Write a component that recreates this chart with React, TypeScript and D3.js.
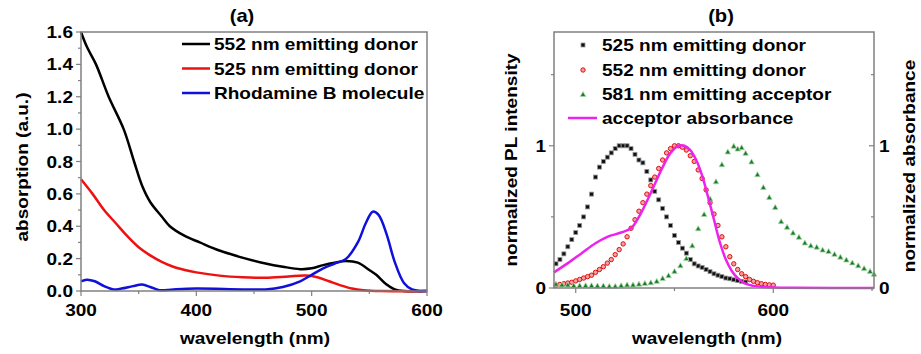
import * as d3 from 'd3';
import React from 'react';

// ---- panel (a): absorption spectra ----
const absWl552 = [300, 305, 313, 324, 337, 346, 353, 360, 370, 377, 390, 403, 420, 443, 460, 475, 490, 500, 510, 520, 530, 540, 550, 556, 565, 572, 580, 600];
const absVal552 = [1.6, 1.51, 1.4, 1.2, 1.0, 0.8, 0.65, 0.55, 0.46, 0.4, 0.34, 0.3, 0.25, 0.2, 0.17, 0.15, 0.135, 0.14, 0.16, 0.175, 0.185, 0.175, 0.13, 0.1, 0.04, 0.01, 0, 0];

const absWl525 = [300, 310, 320, 330, 340, 350, 360, 370, 380, 390, 400, 420, 440, 460, 480, 495, 505, 515, 525, 535, 545, 560, 600];
const absVal525 = [0.69, 0.6, 0.5, 0.42, 0.34, 0.27, 0.22, 0.18, 0.15, 0.13, 0.115, 0.095, 0.085, 0.082, 0.09, 0.095, 0.085, 0.06, 0.035, 0.015, 0.005, 0, 0];

const absWlRhB = [300, 305, 312, 320, 328, 335, 345, 353, 360, 368, 380, 400, 440, 460, 475, 490, 500, 510, 520, 530, 540, 547, 553, 558, 565, 572, 580, 587, 595, 600];
const absValRhB = [0.06, 0.07, 0.06, 0.03, 0.01, 0.015, 0.03, 0.04, 0.025, 0.005, 0.01, 0.015, 0.01, 0.01, 0.025, 0.06, 0.1, 0.14, 0.17, 0.2, 0.3, 0.42, 0.49, 0.47, 0.35, 0.18, 0.05, 0.01, 0, 0];

const absLegend = ['552 nm emitting donor', '525 nm emitting donor', 'Rhodamine B molecule'];
const absColors = ['#000000', '#ee1111', '#1010dd'];
const absXTicks = [300, 400, 500, 600];
const absYTicks = [0, 0.2, 0.4, 0.6, 0.8, 1.0, 1.2, 1.4, 1.6];

// ---- panel (b): normalized PL / absorbance ----
const plWl525 = [490, 492, 494, 496, 498, 500, 502, 504, 506, 508, 510, 512, 514, 516, 518, 520, 522, 524, 526, 528, 530, 532, 534, 536, 538, 540, 542, 544, 546, 548, 550, 552, 554, 556, 558, 560, 562, 564, 566, 568, 570, 572, 574, 576, 578, 580, 582, 584, 586];
const plVal525 = [0.17, 0.2, 0.24, 0.29, 0.34, 0.39, 0.44, 0.5, 0.57, 0.66, 0.78, 0.85, 0.89, 0.92, 0.95, 0.98, 1.0, 1.0, 1.0, 0.98, 0.94, 0.9, 0.88, 0.82, 0.76, 0.68, 0.62, 0.56, 0.5, 0.44, 0.37, 0.32, 0.28, 0.245, 0.2, 0.17, 0.155, 0.145, 0.13, 0.115, 0.1, 0.09, 0.08, 0.07, 0.065, 0.058, 0.052, 0.047, 0.042];

const plWl552 = [490, 492, 494, 496, 498, 500, 502, 504, 506, 508, 510, 512, 514, 516, 518, 520, 522, 524, 526, 528, 530, 532, 534, 536, 538, 540, 542, 544, 546, 548, 550, 552, 554, 556, 558, 560, 562, 564, 566, 568, 570, 572, 574, 576, 578, 580, 582, 584, 586, 588, 590, 592, 594, 596, 598, 600];
const plVal552 = [0.02, 0.025, 0.03, 0.035, 0.04, 0.05, 0.06, 0.07, 0.08, 0.09, 0.11, 0.13, 0.15, 0.175, 0.2, 0.235, 0.27, 0.31, 0.36, 0.42, 0.48, 0.54, 0.6, 0.66, 0.72, 0.78, 0.84, 0.9, 0.95, 0.98, 1.0, 1.0, 0.99, 0.97, 0.93, 0.89, 0.83, 0.77, 0.69, 0.6, 0.52, 0.44, 0.36, 0.29, 0.22, 0.17, 0.13, 0.1, 0.08, 0.06, 0.047, 0.037, 0.03, 0.025, 0.022, 0.02];

const plWl581 = [490, 493, 496, 499, 502, 505, 508, 511, 514, 517, 520, 523, 526, 529, 532, 535, 538, 541, 544, 547, 550, 553, 556, 559, 562, 565, 568, 571, 574, 577, 580, 582, 584, 586, 589, 592, 595, 598, 601, 604, 607, 610, 613, 616, 619, 622, 625, 628, 631, 634, 637, 640, 643, 646, 649, 651];
const plVal581 = [0.03, 0.025, 0.025, 0.02, 0.02, 0.02, 0.02, 0.018, 0.018, 0.015, 0.015, 0.02, 0.025, 0.025, 0.03, 0.035, 0.04, 0.05, 0.07, 0.09, 0.12, 0.16, 0.21, 0.3, 0.42, 0.52, 0.63, 0.75, 0.87, 0.96, 1.0, 0.98, 0.99, 0.95, 0.89, 0.8, 0.71, 0.64, 0.57, 0.47, 0.43, 0.39, 0.36, 0.32, 0.3, 0.29, 0.27, 0.26, 0.24, 0.22, 0.2, 0.18, 0.16, 0.14, 0.12, 0.1];

const accWl = [489, 496, 503, 510, 516, 523, 528, 532, 536, 540, 544, 548, 552, 555, 558, 561, 564, 567, 570, 573, 576, 579, 582, 586, 590, 595, 600, 610, 651];
const accVal = [0.11, 0.175, 0.245, 0.315, 0.36, 0.39, 0.42, 0.5, 0.61, 0.73, 0.85, 0.95, 1.0, 1.0, 0.97, 0.9, 0.79, 0.64, 0.48, 0.32, 0.2, 0.12, 0.07, 0.03, 0.015, 0.007, 0.004, 0.002, 0];

const plLegend = ['525 nm emitting donor', '552 nm emitting donor', '581 nm emitting acceptor', 'acceptor absorbance'];
const plXTicks = [500, 600];
const plYTicks = [0, 1];

const FONT = '"Liberation Sans", Arial, sans-serif';
const FRAME = '#808080';
const SX = 1.12; // the source figure's lettering is a little wider than Arial

type Pt = { x: number; y: number };
const zip = (xs: number[], ys: number[]): Pt[] => xs.map((x, i) => ({ x, y: ys[i] }));

function T({
    x,
    y,
    rot = 0,
    anchor = 'start',
    size = 17,
    mid = false,
    children,
}: {
    x: number;
    y: number;
    rot?: number;
    anchor?: 'start' | 'middle' | 'end';
    size?: number;
    mid?: boolean;
    children: React.ReactNode;
}) {
    return (
        <text
            transform={`translate(${x},${y}) rotate(${rot}) scale(${SX},1)`}
            textAnchor={anchor}
            dy={mid ? '0.36em' : undefined}
            fontSize={size}
        >
            {children}
        </text>
    );
}

function PanelA() {
    const x = d3.scaleLinear().domain([300, 600]).range([81, 427]);
    const y = d3.scaleLinear().domain([0, 1.6]).range([291, 32]);
    const line = d3
        .line<Pt>()
        .x((d) => x(d.x))
        .y((d) => y(d.y))
        .curve(d3.curveCatmullRom.alpha(0.5));
    const series = [zip(absWl552, absVal552), zip(absWl525, absVal525), zip(absWlRhB, absValRhB)];
    const minorX = d3.range(300, 601, 50);
    const minorY = d3.range(0, 16.1, 1).map((v) => v / 10);
    const [x0, x1] = x.range();
    const [y0, y1] = y.range();
    return (
        <g fontFamily={FONT} fontWeight="bold">
            <T x={242} y={22} anchor="middle" size={18}>(a)</T>
            {series.map((s, i) => (
                <path key={'s' + i} d={line(s) ?? ''} fill="none" stroke={absColors[i]} strokeWidth={2.5} />
            ))}
            <rect x={x0} y={y1} width={x1 - x0} height={y0 - y1} fill="none" stroke={FRAME} strokeWidth={1.5} />
            {minorY.map((v) => (
                <line key={'my' + v} x1={x0} x2={x0 - (Math.round(v * 10) % 2 === 0 ? 5 : 3)} y1={y(v)} y2={y(v)} stroke={FRAME} strokeWidth={1.2} />
            ))}
            {minorX.map((v) => (
                <line key={'mx' + v} x1={x(v)} x2={x(v)} y1={y0} y2={y0 + (v % 100 === 0 ? 5 : 3)} stroke={FRAME} strokeWidth={1.2} />
            ))}
            {absYTicks.map((v) => (
                <T key={'ty' + v} x={73} y={y(v)} mid anchor="end">{v.toFixed(1)}</T>
            ))}
            {absXTicks.map((v) => (
                <T key={'tx' + v} x={x(v)} y={316} anchor="middle">{v}</T>
            ))}
            <T x={255} y={344} anchor="middle">wavelength (nm)</T>
            <T x={28} y={167} rot={-90} anchor="middle">absorption (a.u.)</T>
            {absLegend.map((t, i) => (
                <g key={'lg' + i}>
                    <line x1={182} x2={210} y1={44 + i * 24.5} y2={44 + i * 24.5} stroke={absColors[i]} strokeWidth={2.5} />
                    <T x={214} y={44 + i * 24.5} mid>{t}</T>
                </g>
            ))}
        </g>
    );
}

function Square({ cx, cy, s = 4 }: { cx: number; cy: number; s?: number }) {
    return <rect x={cx - s / 2} y={cy - s / 2} width={s} height={s} fill="#111" stroke="#999" strokeWidth={0.8} />;
}
function Circle({ cx, cy, r = 2.2 }: { cx: number; cy: number; r?: number }) {
    return <circle cx={cx} cy={cy} r={r} fill="#f4a0a0" stroke="#e01010" strokeWidth={1} />;
}
function Tri({ cx, cy, s = 5.5 }: { cx: number; cy: number; s?: number }) {
    const h = s * 0.9;
    return (
        <path
            d={`M${cx},${cy - h / 2}L${cx + s / 2},${cy + h / 2}L${cx - s / 2},${cy + h / 2}Z`}
            fill="#1a7a2a"
            stroke="#a8d8a8"
            strokeWidth={0.8}
        />
    );
}

function PanelB() {
    const x = d3.scaleLinear().domain([489, 651]).range([554, 874]);
    const y = d3.scaleLinear().domain([0, 1.8]).range([288, 32]);
    const line = d3
        .line<Pt>()
        .x((d) => x(d.x))
        .y((d) => y(d.y))
        .curve(d3.curveCatmullRom.alpha(0.5));
    const [x0, x1] = x.range();
    const [y0, y1] = y.range();
    const minorX = [500, 550, 600, 650];
    const minorY = [0, 0.5, 1, 1.5];
    const s525 = zip(plWl525, plVal525);
    const s552 = zip(plWl552, plVal552);
    const s581 = zip(plWl581, plVal581);
    const acc = zip(accWl, accVal);
    const rows = [45, 70, 94, 118];
    return (
        <g fontFamily={FONT} fontWeight="bold">
            <T x={721} y={22} anchor="middle" size={18}>(b)</T>
            {s525.map((d, i) => (
                <Square key={'q' + i} cx={x(d.x)} cy={y(d.y)} />
            ))}
            {s552.map((d, i) => (
                <Circle key={'c' + i} cx={x(d.x)} cy={y(d.y)} />
            ))}
            {s581.map((d, i) => (
                <Tri key={'t' + i} cx={x(d.x)} cy={y(d.y)} />
            ))}
            <path d={line(acc) ?? ''} fill="none" stroke="#ee22ee" strokeWidth={2.5} />
            <rect x={x0} y={y1} width={x1 - x0} height={y0 - y1} fill="none" stroke={FRAME} strokeWidth={1.5} />
            {minorY.map((v) => (
                <g key={'my' + v}>
                    <line x1={x0} x2={x0 - (v % 1 === 0 ? 5 : 3)} y1={y(v)} y2={y(v)} stroke={FRAME} strokeWidth={1.2} />
                    <line x1={x1} x2={x1 - (v % 1 === 0 ? 5 : 3)} y1={y(v)} y2={y(v)} stroke={FRAME} strokeWidth={1.2} />
                </g>
            ))}
            {minorX.map((v) => (
                <line key={'mx' + v} x1={x(v)} x2={x(v)} y1={y0} y2={y0 + (v % 100 === 0 ? 5 : 3)} stroke={FRAME} strokeWidth={1.2} />
            ))}
            {plYTicks.map((v) => (
                <g key={'ty' + v}>
                    <T x={546} y={y(v)} mid anchor="end">{v}</T>
                    <T x={879} y={y(v)} mid>{v}</T>
                </g>
            ))}
            {plXTicks.map((v) => (
                <T key={'tx' + v} x={x(v)} y={316} anchor="middle">{v}</T>
            ))}
            <T x={707} y={344} anchor="middle">wavelength (nm)</T>
            <T x={517} y={160} rot={-90} anchor="middle">normalized PL intensity</T>
            <T x={915} y={166} rot={-90} anchor="middle">normalized absorbance</T>
            <Square cx={583} cy={rows[0]} />
            <Circle cx={583} cy={rows[1]} />
            <Tri cx={583} cy={rows[2]} />
            <line x1={568} x2={597} y1={rows[3]} y2={rows[3]} stroke="#ee22ee" strokeWidth={2.5} />
            {plLegend.map((t, i) => (
                <T key={'lg' + i} x={602} y={rows[i]} mid>{t}</T>
            ))}
        </g>
    );
}

export default function App() {
    return (
        <svg
            width={921}
            height={354}
            style={{ position: 'absolute', left: 0, top: 0, background: '#fff' }}
        >
            <rect width={921} height={354} fill="#fff" />
            <PanelA />
            <PanelB />
        </svg>
    );
}
